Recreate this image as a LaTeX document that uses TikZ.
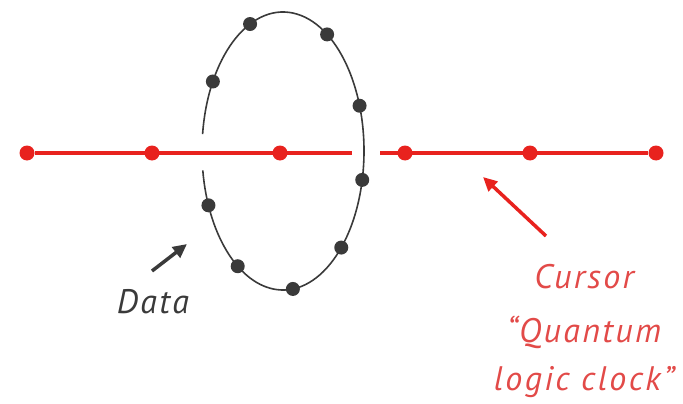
\documentclass[tikz,border=0pt]{standalone}
\usepackage{fontspec}
\setmainfont{PT Sans}[LetterSpace=7]
\usetikzlibrary{arrows.meta}
\definecolor{clock-red}{HTML}{E8221E}
\definecolor{label-red}{HTML}{E24A48}
\definecolor{data-grey}{HTML}{3A3A3A}

\begin{document}
\begin{tikzpicture}[x=1pt, y=-1pt,
      every node/.style={font=\fontsize{34}{48}\selectfont\itshape},
      bit/.style={circle, fill=data-grey, inner sep=0pt, minimum size=14pt},
      tick/.style={circle, fill=clock-red, inner sep=0pt, minimum size=15pt},
      pointer/.style={line width=3.5pt, -{Triangle[length=14pt, width=13pt]}}]
    \useasboundingbox (0,0) rectangle (683,404);
    % ---- data ring (broken where the clock line passes in front)
    \coordinate (ring) at (283,151);
    \draw[data-grey, line width=1.6pt] (ring) ++(-173:81 and 139)
      arc[start angle=-173, end angle=172, x radius=81, y radius=139];
    \foreach \a [count=\i] in {-114,-57,-150,-19,12,157,44,124,83}
      \node[bit] (b\i) at ([shift={(\a:81 and 139)}]ring) {};
    % ---- clock line (broken where the ring passes in front)
    \foreach \x [count=\i] in {27,152,280,405,530,656}
      \node[tick] (t\i) at (\x,153) {};
    \coordinate (gap-l) at (352,153);
    \coordinate (gap-r) at (380,153);
    \draw[clock-red, line width=4.5pt] (t1) -- (gap-l);
    \draw[clock-red, line width=4.5pt] (gap-r) -- (t6);
    % ---- labels
    \node[anchor=base, text=data-grey] (data) at (153,313) {Data};
    \node[anchor=base, text=label-red] (cursor) at (584,288) {Cursor};
    \node[anchor=base, text=label-red, align=center] (qlc) at (584,390)
      {``Quantum\\logic clock''};
    \coordinate (data-tail) at (152,271);
    \coordinate (data-tip) at (187,244);
    \coordinate (cursor-tail) at (546,236);
    \coordinate (cursor-tip) at (483,177);
    \draw[pointer, data-grey] (data-tail) -- (data-tip);
    \draw[pointer, clock-red] (cursor-tail) -- (cursor-tip);
  \end{tikzpicture}
\end{document}
